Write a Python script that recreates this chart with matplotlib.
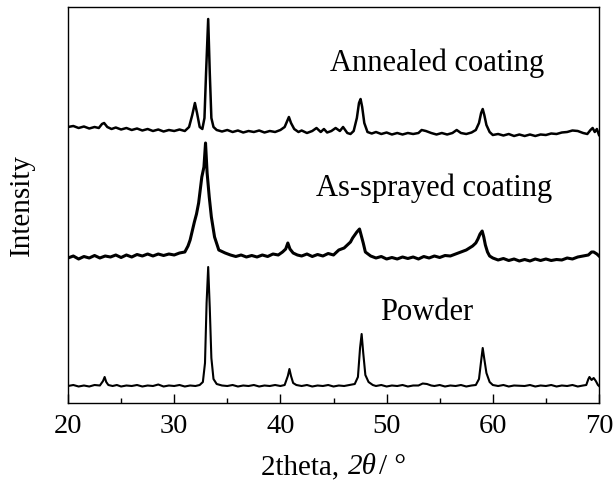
import matplotlib
matplotlib.use('Agg')
import matplotlib.pyplot as plt
from matplotlib.ticker import MultipleLocator
from matplotlib.offsetbox import TextArea, HPacker, AnchoredOffsetbox

# 字体 (Times 风格)
plt.rcParams['font.family'] = ['Liberation Serif', 'DejaVu Serif']

# (2theta, intensity) 点
powder = [(20, 17), (20.5, 18), (21, 16.5), (21.5, 17.5), (22, 16.5), (22.5, 18), (23.0, 17.5), (23.3, 22),
          (23.45, 26), (23.6, 21), (23.8, 18), (24.2, 17), (24.6, 18), (25, 16.5), (25.5, 17.5), (26, 17),
          (26.5, 18), (27, 16.5), (27.5, 17.5), (28, 17), (28.5, 18.5), (29, 16.5), (29.5, 17.5), (30, 17),
          (30.5, 18), (31, 16.5), (31.5, 17.5), (32, 17), (32.4, 18), (32.7, 21), (32.9, 40), (33.05, 100),
          (33.2, 136), (33.35, 95), (33.5, 45), (33.7, 24), (34.0, 19), (34.5, 17.5), (35, 17), (35.5, 18),
          (36, 16.5), (36.5, 17.5), (37, 17), (37.5, 18), (38, 16.5), (38.5, 17.5), (39, 17), (39.5, 18),
          (40, 17), (40.4, 18), (40.7, 27), (40.85, 34), (41.0, 27), (41.2, 20), (41.5, 18), (42, 17),
          (42.5, 18), (43, 16.5), (43.5, 17.5), (44, 17), (44.5, 18), (45, 16.5), (45.5, 17.5), (46, 17),
          (46.5, 18), (47.0, 19), (47.3, 26), (47.5, 55), (47.65, 69), (47.8, 50), (48.0, 28), (48.3, 21),
          (48.7, 18), (49, 17), (49.5, 18), (50, 16.5), (50.5, 17.5), (51, 17), (51.5, 18), (52, 16.5),
          (52.5, 17.5), (53, 17.5), (53.4, 19.5), (53.8, 19), (54.2, 17.5), (54.5, 17), (55, 18), (55.5, 16.5),
          (56, 17.5), (56.5, 17), (57, 18), (57.5, 16.5), (58, 17.5), (58.4, 18), (58.7, 24), (58.9, 42),
          (59.05, 55), (59.2, 44), (59.4, 30), (59.7, 21), (60.0, 18), (60.5, 17), (61, 18), (61.5, 16.5),
          (62, 17.5), (63, 17), (63.5, 18), (64, 16.5), (64.5, 17.5), (65, 17), (65.5, 18), (66, 16.5),
          (66.5, 17.5), (67, 17), (67.5, 18), (68, 16.5), (68.5, 17.5), (68.8, 18), (69.0, 24), (69.1, 26),
          (69.3, 23), (69.5, 25), (69.7, 22), (69.9, 18), (70, 17)]

sprayed = [(20, 145), (20.5, 147), (21, 144), (21.5, 146.5), (22, 145), (22.5, 147.5), (23, 145), (23.5, 147),
           (24, 146), (24.5, 148), (25, 145.5), (25.5, 148), (26, 146), (26.5, 148.5), (27, 147), (27.5, 149),
           (28, 147), (28.5, 149), (29, 147.5), (29.5, 149), (30, 148), (30.5, 150), (31.0, 151), (31.3, 157),
           (31.5, 163), (31.7, 172), (31.9, 181), (32.1, 189), (32.3, 200), (32.6, 226), (32.8, 236),
           (32.95, 260), (33.1, 230), (33.3, 206), (33.5, 186), (33.8, 166), (34.2, 153), (34.8, 150),
           (35.3, 148), (35.8, 146.5), (36.3, 148), (36.8, 146), (37.3, 147.5), (37.8, 146), (38.3, 148),
           (38.8, 146.5), (39.3, 149), (39.8, 148), (40.2, 151), (40.5, 154), (40.7, 160), (40.9, 154),
           (41.2, 150), (41.6, 148), (42, 147), (42.5, 149), (43, 146.5), (43.5, 148.5), (44, 147),
           (44.5, 149.5), (45, 148), (45.5, 153), (46.0, 155), (46.3, 158), (46.6, 161), (46.8, 165),
           (47.0, 168), (47.2, 171), (47.45, 174), (47.6, 168), (47.8, 160), (48.0, 151), (48.5, 147),
           (49, 145), (49.5, 146.5), (50, 144), (50.5, 145.5), (51, 144), (51.5, 146), (52, 144.5), (52.5, 146),
           (53, 144), (53.5, 146.5), (54, 145), (54.5, 147), (55, 145.5), (55.5, 147.5), (56, 147), (56.5, 149),
           (57, 151), (57.5, 153), (57.8, 155), (58.1, 157), (58.4, 160), (58.6, 164), (58.8, 169), (59.0, 172),
           (59.15, 166), (59.3, 158), (59.5, 151), (59.7, 147), (60.0, 145), (60.5, 143), (61, 144.5),
           (61.5, 142.5), (62, 144), (62.5, 142), (63, 143.5), (63.5, 142), (64, 144), (64.5, 142.5), (65, 144),
           (65.5, 142.5), (66, 143.5), (66.5, 143), (67, 145), (67.5, 144), (68, 146), (68.5, 147), (69, 148),
           (69.3, 151), (69.5, 151), (69.8, 149), (70, 147)]

annealed = [(20, 276), (20.5, 277), (21, 275), (21.5, 276.5), (22, 274.5), (22.5, 276), (22.9, 275), (23.2, 279),
            (23.4, 280), (23.7, 276), (24.1, 274), (24.5, 275.5), (25, 273.5), (25.5, 275), (26, 273),
            (26.5, 274.5), (27, 272.5), (27.5, 274), (28, 272), (28.5, 273.5), (29, 271.5), (29.5, 273), (30, 272),
            (30.5, 273.5), (31.0, 272), (31.4, 276), (31.7, 288), (31.95, 300), (32.15, 290), (32.4, 276),
            (32.65, 274), (32.85, 285), (33.0, 330), (33.2, 384), (33.35, 330), (33.5, 285), (33.7, 276),
            (34.0, 273), (34.5, 271.5), (35, 273), (35.5, 271), (36, 272.5), (36.5, 270.5), (37, 272), (37.5, 271),
            (38, 272.5), (38.5, 270.5), (39, 272), (39.5, 271), (40.0, 273), (40.4, 276), (40.6, 281), (40.8, 286),
            (41.0, 280), (41.3, 274), (41.7, 271), (42, 272.5), (42.5, 270), (43, 272), (43.4, 275), (43.8, 271),
            (44.1, 274), (44.4, 270.5), (44.8, 272), (45.2, 275), (45.6, 272), (45.9, 276), (46.3, 270),
            (46.6, 269), (46.9, 272), (47.2, 285), (47.4, 300), (47.55, 304), (47.7, 296), (47.9, 280),
            (48.2, 271), (48.6, 269.5), (49, 271), (49.5, 269), (50, 270.5), (50.5, 268.5), (51, 270),
            (51.5, 268.5), (52, 270), (52.5, 269), (53.0, 270), (53.3, 273), (53.7, 272), (54.2, 270),
            (54.7, 268.5), (55.2, 270), (55.7, 268.5), (56.2, 270), (56.6, 273), (57.0, 270), (57.5, 269),
            (58.0, 270.5), (58.4, 273), (58.7, 280), (58.9, 290), (59.05, 294), (59.2, 288), (59.4, 278),
            (59.7, 271), (60.0, 268), (60.5, 269), (61, 267.5), (61.5, 269), (62, 267), (62.5, 268.5), (63, 267),
            (63.5, 268.5), (64, 267), (64.5, 268.5), (65, 268), (65.5, 269.5), (66, 269), (66.5, 270.5), (67, 271),
            (67.5, 272.5), (68, 272), (68.5, 270), (68.9, 269), (69.2, 273), (69.4, 275), (69.6, 271), (69.8, 274),
            (70, 268)]

labels = ['Annealed coating', 'As-sprayed coating', 'Powder']
label_x = [54.75, 54.45, 53.8]
label_y = [340, 215, 91]

fig = plt.figure(figsize=(6.16, 4.88), dpi=100)
ax = fig.add_axes([68 / 616, 85 / 488, 531 / 616, 396 / 488])

for pts, lw in zip([powder, sprayed, annealed], [1.5, 2.2, 1.8]):
    xs, ys = zip(*pts)
    ax.plot(xs, ys, color='black', linewidth=lw)

for text, tx, ty in zip(labels, label_x, label_y):
    ax.text(tx, ty, text, ha='center', va='center', fontsize=22)

ax.set_xlim(20, 70)
ax.set_ylim(0, 396)
ax.xaxis.set_major_locator(MultipleLocator(10))
ax.xaxis.set_minor_locator(MultipleLocator(5))
ax.set_yticks([])
ax.tick_params(axis='x', which='major', direction='in', length=6.5, width=1, labelsize=20.5, pad=8)
ax.tick_params(axis='x', which='minor', direction='in', length=3.8, width=1)
for s in ax.spines.values():
    s.set_linewidth(1)

# x 轴标题: 2theta, 2θ/ °  (2θ 斜体)
parts = [TextArea('2theta, ', textprops=dict(fontsize=21)),
         TextArea('2θ', textprops=dict(fontsize=21, style='italic')),
         TextArea('/ °', textprops=dict(fontsize=21))]
xlab = HPacker(children=parts, align='baseline', pad=0, sep=1)
box = AnchoredOffsetbox(loc='center', child=xlab, frameon=False, pad=0, borderpad=0,
                        bbox_to_anchor=(0.5, -0.162), bbox_transform=ax.transAxes)
ax.add_artist(box)

ax.set_ylabel('Intensity', fontsize=21, labelpad=24)

plt.savefig('out.png', dpi=100)
